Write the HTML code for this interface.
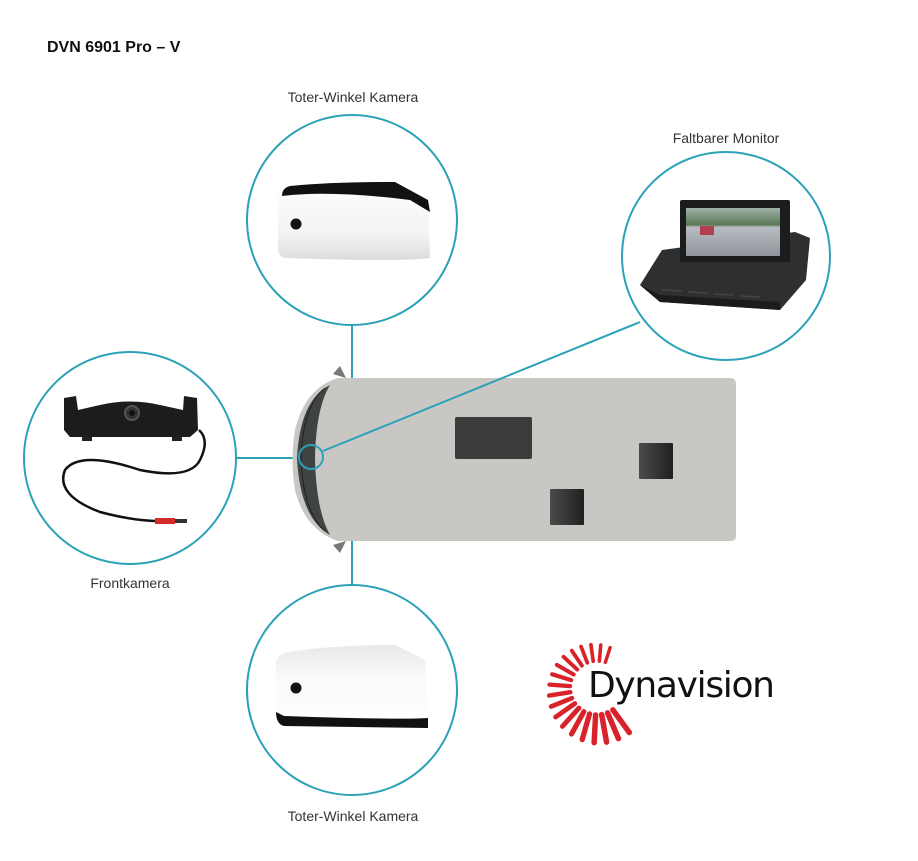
<!DOCTYPE html>
<html><head><meta charset="utf-8"><style>
html,body{margin:0;padding:0;background:#fff;}
svg{display:block;}
text{font-family:"Liberation Sans",sans-serif;}
</style></head><body>
<svg id="s" width="918" height="861" viewBox="0 0 918 861" xmlns="http://www.w3.org/2000/svg">
<defs>
<linearGradient id="cam" x1="0" y1="0" x2="0" y2="1"><stop offset="0" stop-color="#fff"/><stop offset="0.7" stop-color="#f2f2f2"/><stop offset="1" stop-color="#dcdcdc"/></linearGradient>
<linearGradient id="cam2" x1="0" y1="0" x2="0" y2="1"><stop offset="0" stop-color="#e8e8e8"/><stop offset="0.4" stop-color="#fafafa"/><stop offset="1" stop-color="#fff"/></linearGradient>
<linearGradient id="win" x1="0" y1="0" x2="1" y2="0"><stop offset="0" stop-color="#4a4c4b"/><stop offset="1" stop-color="#1f2120"/></linearGradient>
<linearGradient id="scr" x1="0" y1="0" x2="0" y2="1"><stop offset="0" stop-color="#9fb2a8"/><stop offset="0.35" stop-color="#5a7a55"/><stop offset="0.4" stop-color="#b8bcc2"/><stop offset="1" stop-color="#8f959c"/></linearGradient>
</defs>
<text x="47" y="52" font-size="16" font-weight="bold" fill="#111">DVN 6901 Pro – V</text>
<text x="353" y="102" font-size="14" fill="#333" text-anchor="middle">Toter-Winkel Kamera</text>
<text x="726" y="143" font-size="14" fill="#333" text-anchor="middle">Faltbarer Monitor</text>
<text x="130" y="588" font-size="14" fill="#333" text-anchor="middle">Frontkamera</text>
<text x="353" y="821" font-size="14" fill="#333" text-anchor="middle">Toter-Winkel Kamera</text>

<g stroke="#2ba2b8" stroke-width="2" fill="none">
<circle cx="352" cy="220" r="105"/>
<circle cx="726" cy="256" r="104"/>
<circle cx="130" cy="458" r="106"/>
<circle cx="352" cy="690" r="105"/>
<line x1="352" y1="325" x2="352" y2="380"/>
<line x1="352" y1="540" x2="352" y2="585"/>
<line x1="236" y1="458" x2="298" y2="458"/>
</g>

<!-- van -->
<path d="M333,374 L340,366 L346,378 Z M333,545 L340,553 L346,541 Z" fill="#777"/>
<path d="M338,378 L730,378 Q736,378 736,384 L736,536 Q736,541 730,541 L338,541 Q305,530 295,490 Q290,460 295,430 Q305,388 338,378 Z" fill="#c9c7c3"/>
<path d="M330,385 Q300,400 297,458 Q300,518 330,535 Q316,510 315,458 Q316,408 330,385 Z" fill="#3f4341"/>
<path d="M325,388 Q303,405 301,458 Q303,512 325,531" stroke="#222" stroke-width="1" fill="none"/>
<rect x="455" y="417" width="77" height="42" rx="2" fill="#3a3c3b"/>
<rect x="639" y="443" width="34" height="36" rx="1" fill="url(#win)"/>
<rect x="550" y="489" width="34" height="36" rx="1" fill="url(#win)"/>
<g stroke="#2ba2b8" stroke-width="2" fill="none">
<circle cx="311" cy="457" r="12"/>
<line x1="323" y1="451" x2="640" y2="322"/>
</g>

<!-- top camera -->
<path d="M290,186 Q330,182 395,182 L428,200 L430,258 Q400,262 286,258 Q278,257 278,248 L278,200 Q278,188 290,186 Z" fill="url(#cam)"/>
<path d="M290,186 Q330,182 395,182 L428,200 L430,212 L410,200 Q330,190 282,196 Q282,188 290,186 Z" fill="#111"/>
<circle cx="296" cy="224" r="5.5" fill="#111"/>

<!-- bottom camera -->
<path d="M290,652 Q330,645 395,645 L425,660 L428,725 Q400,728 284,725 Q276,724 276,716 L276,664 Q276,654 290,652 Z" fill="url(#cam2)"/>
<path d="M276,712 Q276,724 284,726 L428,728 L428,718 Q400,720 284,716 Z" fill="#111"/>
<circle cx="296" cy="688" r="5.5" fill="#111"/>

<!-- front camera -->
<path d="M64,398 L76,396 L78,410 L100,405 Q130,398 160,405 L183,410 L184,396 L197,398 L198,430 L190,437 L70,437 L64,430 Z" fill="#1c1c1c"/>
<rect x="82" y="437" width="10" height="4" fill="#222"/><rect x="172" y="437" width="10" height="4" fill="#222"/>
<circle cx="132" cy="413" r="7" fill="#333" stroke="#555" stroke-width="2"/>
<circle cx="132" cy="413" r="3" fill="#111"/>
<path d="M199,430 Q210,440 200,460 Q190,480 140,470 Q80,450 65,470 Q55,495 100,512 Q130,520 155,521" stroke="#111" stroke-width="2.5" fill="none"/>
<rect x="155" y="518" width="20" height="6" fill="#d42a2a"/><rect x="175" y="519" width="12" height="4" fill="#333"/>

<!-- monitor -->
<path d="M640,285 L662,250 L795,232 L810,238 L806,280 L780,310 L660,302 Z" fill="#2d2f31"/>
<path d="M640,285 L660,302 L780,310 L780,302 L660,295 Z" fill="#1a1b1c"/>
<rect x="680" y="200" width="110" height="62" rx="2" fill="#1b1c1d"/>
<rect x="686" y="208" width="94" height="48" fill="url(#scr)"/>
<rect x="700" y="226" width="14" height="9" fill="#b04050"/>
<g stroke="#444" stroke-width="1.5"><line x1="662" y1="290" x2="682" y2="291"/><line x1="688" y1="292" x2="708" y2="293"/><line x1="714" y1="294" x2="734" y2="295"/><line x1="740" y1="296" x2="760" y2="297"/></g>

<!-- logo -->
<g id="rays" fill="#d8232a"></g>
<text x="588" y="697" font-size="36" fill="#111" style="font-family:'DejaVu Sans','Liberation Sans',sans-serif;" textLength="187">Dynavision</text>
</svg>
<script>
var g=document.getElementById('rays'),cx=597,cy=688,s='';
for(var a=-72;a>=-310;a-=13){var r=a*Math.PI/180;var deg=((a%360)+360)%360;
var t;if(deg>=180&&deg<=290){t=0.3+(290-deg)/110*0.3;}else if(deg<180&&deg>90){t=0.6+(180-deg)/90*0.4;}else{t=1;}
var r1=27,r2=r1+10+18*t,w=2.5+3*t;
var x1=cx+r1*Math.cos(r),y1=cy+r1*Math.sin(r),x2=cx+r2*Math.cos(r),y2=cy+r2*Math.sin(r);
s+='<line x1="'+x1+'" y1="'+y1+'" x2="'+x2+'" y2="'+y2+'" stroke="#d8232a" stroke-width="'+w+'" stroke-linecap="round"/>';}
g.innerHTML=s;
</script>
</body></html>
